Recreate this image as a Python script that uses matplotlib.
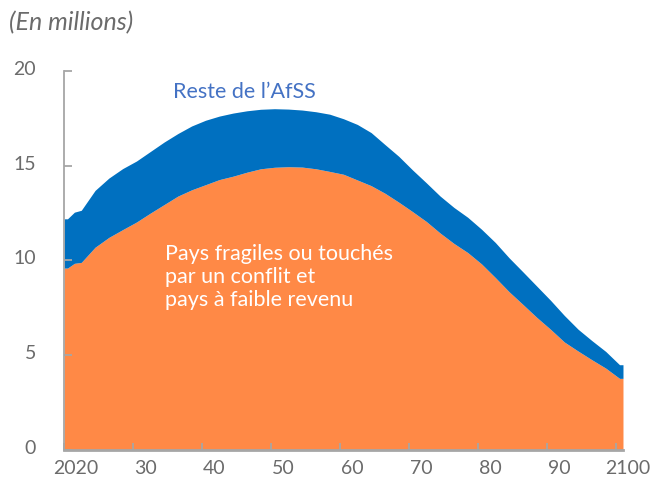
import numpy as np
import matplotlib
matplotlib.use('Agg')
import matplotlib.pyplot as plt
from matplotlib.transforms import ScaledTranslation

# Data (millions)
years = [2020, 2021, 2022, 2024, 2026, 2028, 2030, 2032, 2034, 2036, 2038,
         2040, 2042, 2044, 2046, 2048, 2050, 2052, 2054, 2056, 2058, 2060,
         2062, 2064, 2066, 2068, 2070, 2072, 2074, 2076, 2078, 2080, 2082,
         2084, 2086, 2088, 2090, 2092, 2094, 2096, 2098, 2100]
fragiles = [9.6, 9.85, 9.9, 10.7, 11.22, 11.63, 12.03, 12.5, 12.95, 13.4, 13.73,
            14.0, 14.27, 14.45, 14.66, 14.84, 14.92, 14.95, 14.93, 14.84, 14.7, 14.55,
            14.25, 13.95, 13.55, 13.08, 12.58, 12.06, 11.45, 10.9, 10.42, 9.82, 9.1,
            8.35, 7.68, 7.0, 6.37, 5.7, 5.22, 4.76, 4.32, 3.78]
reste = [2.6, 2.7, 2.75, 3.0, 3.13, 3.22, 3.22, 3.25, 3.3, 3.3, 3.37,
         3.4, 3.35, 3.33, 3.24, 3.14, 3.09, 3.04, 3.01, 3.01, 3.02, 2.93,
         2.93, 2.8, 2.57, 2.42, 2.2, 2.04, 1.95, 1.9, 1.86, 1.83, 1.85,
         1.79, 1.72, 1.65, 1.53, 1.4, 1.15, 1.01, 0.88, 0.72]
tick_years = [2020, 2030, 2040, 2050, 2060, 2070, 2080, 2090, 2100]
tick_labels = ['2020', '30', '40', '50', '60', '70', '80', '90', '2100']

ORANGE = '#FF8946'
BLUE = '#0070C0'
GREY = '#A6A6A6'
TEXT_GREY = '#6B6B6B'

plt.rcParams['font.family'] = ['Lato', 'DejaVu Sans']

fig = plt.figure(figsize=(6.52, 4.82), dpi=100)
ax = fig.add_axes([0.0982, 0.0664, 0.8573, 0.7863])

# each year occupies [year, year + 1]; pad the ends so the fill reaches the edges
x = np.array(years) + 0.5
x = np.concatenate([[years[0]], x, [years[-1] + 1]])
low = np.array(fragiles)
low = np.concatenate([[low[0]], low, [low[-1]]])
top = np.array(fragiles) + np.array(reste)
top = np.concatenate([[top[0]], top, [top[-1]]])

ax.fill_between(x, 0, low, color=ORANGE, linewidth=0)
ax.fill_between(x, low, top, color=BLUE, linewidth=0)

ax.set_xlim(years[0], years[-1] + 1)
ax.set_ylim(0, 20)
ax.set_yticks([0, 5, 10, 15, 20])
ax.set_xticks(tick_years)
ax.set_xticklabels(tick_labels)

for side in ['top', 'right']:
    ax.spines[side].set_visible(False)
ax.spines['left'].set_color(GREY)
ax.spines['left'].set_linewidth(1.3)
ax.spines['bottom'].set_color(GREY)
ax.spines['bottom'].set_linewidth(2)
ax.set_axisbelow(False)

ax.tick_params(axis='y', direction='in', length=6, width=1.3, color=GREY,
               labelsize=14, labelcolor=TEXT_GREY, pad=20)
ax.tick_params(axis='x', direction='in', length=5, width=1.3, color=GREY,
               labelsize=14, labelcolor=TEXT_GREY, pad=7)
for lab in ax.get_xticklabels():
    lab.set_transform(lab.get_transform() + ScaledTranslation(0.12, 0, fig.dpi_scale_trans))
for lab in ax.get_yticklabels():
    lab.set_transform(lab.get_transform() + ScaledTranslation(0, 0.03, fig.dpi_scale_trans))

fig.text(0.014, 0.952, '(En millions)', fontsize=18, style='italic', color=TEXT_GREY,
         va='center', ha='left')

ax.text(2035.8, 18.9, 'Reste de l\u2019AfSS', fontsize=15.5, color='#4472C4',
        ha='left', va='center')
ax.text(2034.6, 9.13, 'Pays fragiles ou touchés\npar un conflit et\npays à faible revenu',
        fontsize=15.5, color='white', ha='left', va='center', linespacing=1.18)

fig.savefig('out.png', dpi=100)
